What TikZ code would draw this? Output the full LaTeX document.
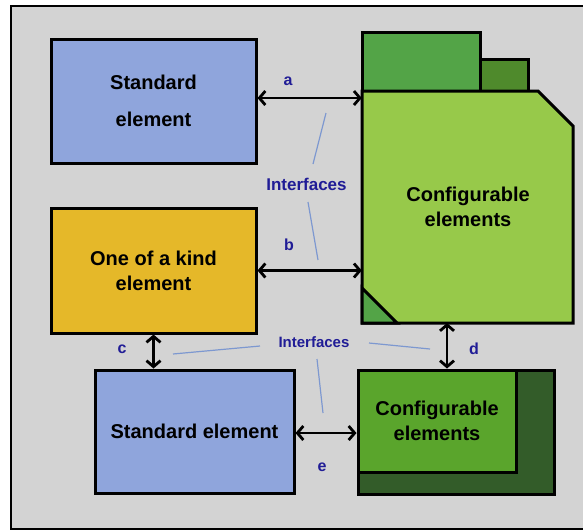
\documentclass[tikz,border=0pt]{standalone}
\usepackage{fontspec}
\setmainfont{Liberation Sans}
\usetikzlibrary{arrows.meta}
\definecolor{bgframe}{RGB}{211,211,211}
\definecolor{stdblue}{RGB}{143,165,220}
\definecolor{kindyellow}{RGB}{229,184,41}
\definecolor{cfglight}{RGB}{151,201,74}
\definecolor{tabgreen}{RGB}{83,164,71}
\definecolor{tabdark}{RGB}{79,138,44}
\definecolor{cfgmid}{RGB}{90,165,44}
\definecolor{cfgdark}{RGB}{51,92,41}
\definecolor{lblblue}{RGB}{32,28,150}
\definecolor{ifline}{RGB}{125,152,208}
\tikzset{
  boxstyle/.style={draw=black, line width=3pt, rectangle, inner sep=0pt, align=center,
    font=\fontsize{20}{25}\selectfont\bfseries},
  plainshape/.style={draw=black, line width=3pt, line join=miter},
  conn/.style={line width=2.8pt, {Straight Barb[length=6pt,width=14pt]}-{Straight Barb[length=6pt,width=14pt]}},
  lbl/.style={text=lblblue, font=\fontsize{16}{18}\selectfont\bfseries, inner sep=0pt},
  ifl/.style={draw=ifline, line width=1.2pt},
  txt/.style={font=\fontsize{20}{25}\selectfont\bfseries, align=center, inner sep=0pt}
}
\begin{document}
\begin{tikzpicture}[x=1pt,y=-1pt]
\useasboundingbox (0,0) rectangle (583,531);
\fill[white] (0,0) rectangle (583,531);
\draw[line width=2.6pt, fill=bgframe] (11,6) rectangle (600,529);

% top standard element
\node[boxstyle, fill=stdblue, minimum width=205pt, minimum height=124pt] (std1) at (153.5,101)
  {Standard\\[12pt]element};
% one of a kind
\node[boxstyle, fill=kindyellow, minimum width=205pt, minimum height=125pt] (ook) at (153.5,270.5)
  {One of a kind\\element};
% bottom standard element
\node[boxstyle, fill=stdblue, minimum width=199pt, minimum height=123pt] (std2) at (194.5,431.5)
  {Standard element};

% big configurable element
\draw[plainshape, fill=tabgreen] (362,32) rectangle (480,91);
\draw[plainshape, fill=tabdark] (480,59) rectangle (528,91);
\draw[plainshape, fill=cfglight] (362,91) -- (538,91) -- (573,126) -- (573,323) -- (362,323) -- cycle;
\draw[plainshape, fill=tabgreen] (362,288) -- (397,323) -- (362,323) -- cycle;
\node[inner sep=0pt, minimum width=211pt, minimum height=232pt] (cfg) at (467.5,207) {};
\node[txt] (cfgtxt) at (468,207) {Configurable\\elements};

% bottom configurable element
\draw[plainshape, fill=cfgdark] (358,370) rectangle (554,494);
\node[boxstyle, fill=cfgmid, minimum width=158pt, minimum height=102pt] (cfg2) at (437,421)
  {Configurable\\elements};

% connectors
\draw[conn] ([yshift=3pt]std1.east) -- ([yshift=3pt]std1.east -| cfg.west);
\draw[conn] (ook.east) -- (ook.east -| cfg.west);
\draw[conn] (ook.south) -- (ook.south |- std2.north);
\coordinate (dtop) at (447,323);
\draw[conn] (dtop) -- (dtop |- cfg2.north);
\draw[conn] ([yshift=-1.5pt]std2.east) -- ([yshift=-1.5pt]std2.east -| cfg2.west);

% labels
\node[lbl] (la) at (288,81) {a};
\node[lbl] (lb) at (289,245) {b};
\node[lbl] (lc) at (122,349) {c};
\node[lbl] (ld) at (474,349) {d};
\node[lbl] (le) at (322,467) {e};
\node[lbl, font=\fontsize{17}{19}\selectfont\bfseries] (if1) at (306.5,184) {Interfaces};
\node[lbl, font=\fontsize{15}{17}\selectfont\bfseries] (if2) at (314,342) {Interfaces};

% interface pointer lines
\coordinate (p1a) at (326,113); \coordinate (p1b) at (313,164);
\coordinate (p2a) at (308,202); \coordinate (p2b) at (318,260);
\coordinate (p3a) at (173,354); \coordinate (p3b) at (260,346);
\coordinate (p4a) at (369,343); \coordinate (p4b) at (430,349);
\coordinate (p5a) at (317,359); \coordinate (p5b) at (323,413);
\draw[ifl] (p1a) -- (p1b);
\draw[ifl] (p2a) -- (p2b);
\draw[ifl] (p3a) -- (p3b);
\draw[ifl] (p4a) -- (p4b);
\draw[ifl] (p5a) -- (p5b);
\end{tikzpicture}
\end{document}
